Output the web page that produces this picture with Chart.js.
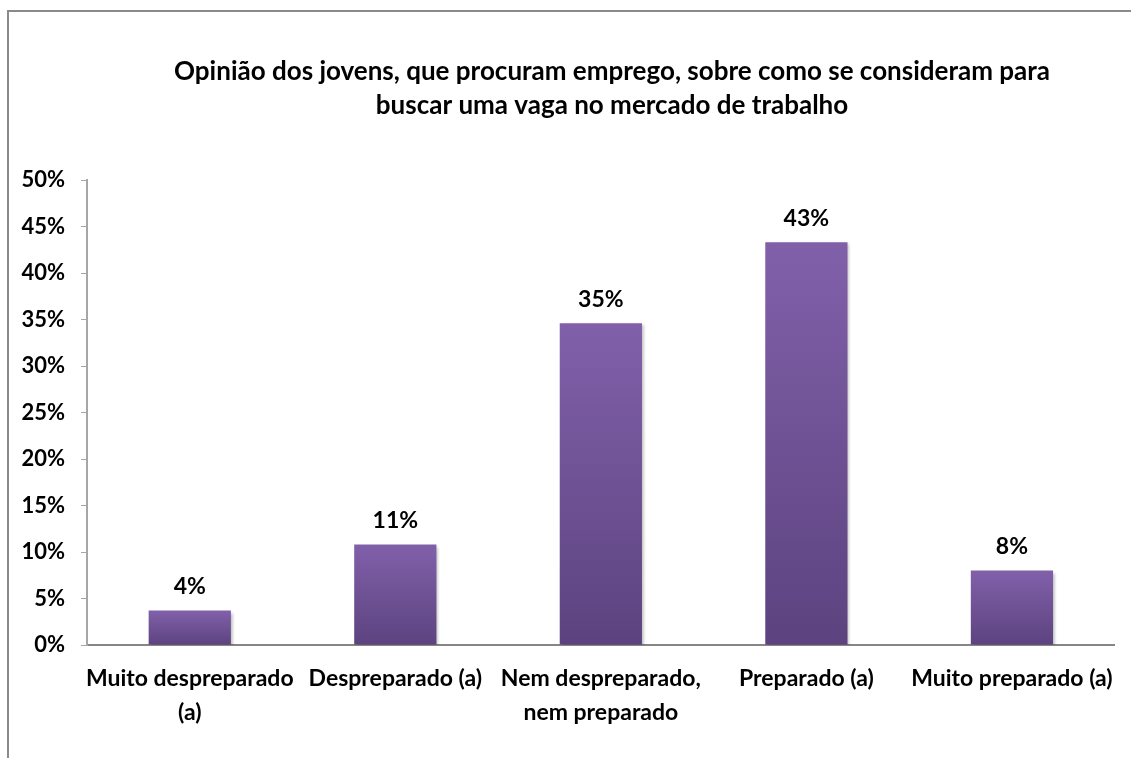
<!DOCTYPE html>
<html>
<head>
<meta charset="utf-8">
<title>Opinião dos jovens</title>
<script src="https://cdn.jsdelivr.net/npm/chart.js@4.4.1/dist/chart.umd.min.js"></script>
<style>
  html, body { margin: 0; padding: 0; background: #fff; overflow: hidden; }
  #wrap { position: relative; width: 1131px; height: 758px; }
  #frame {
    position: absolute; left: 7px; top: 10px; width: 1140px; height: 760px;
    border-left: 2px solid #8a8a8a; border-top: 2px solid #8a8a8a;
  }
  #opiniaoChart { position: absolute; left: 0; top: 0; }
</style>
</head>
<body>
<div id="wrap">
  <div id="frame"></div>
  <canvas id="opiniaoChart" width="1131" height="758"></canvas>
</div>
<script>
var titleLines = [
  "Opinião dos jovens, que procuram emprego, sobre como se consideram para",
  "buscar uma vaga no mercado de trabalho"
];
var categories = [
  ["Muito despreparado", "(a)"],
  "Despreparado (a)",
  ["Nem despreparado,", "nem preparado"],
  "Preparado (a)",
  "Muito preparado (a)"
];
var percentages = [3.7, 10.8, 34.6, 43.3, 8.0];
var yMax = 50;
var yStep = 5;

var FONT = "Lato";

// vertical purple gradient, per bar
function barGradient(context) {
  var chart = context.chart;
  if (!chart.chartArea || context.raw === undefined) return "#6e4f95";
  var y = chart.scales.y;
  var top = y.getPixelForValue(context.raw);
  var base = y.getPixelForValue(0);
  var g = chart.ctx.createLinearGradient(0, top, 0, base);
  g.addColorStop(0, "#8160aa");
  g.addColorStop(1, "#5c437f");
  return g;
}

var barShadow = {
  id: "barShadow",
  beforeDatasetDraw: function (chart) {
    var ctx = chart.ctx;
    ctx.save();
    ctx.shadowColor = "rgba(0,0,0,0.28)";
    ctx.shadowBlur = 3;
    ctx.shadowOffsetX = 2;
    ctx.shadowOffsetY = 2;
  },
  afterDatasetDraw: function (chart) {
    chart.ctx.restore();
  }
};

var valueLabels = {
  id: "valueLabels",
  afterDatasetsDraw: function (chart) {
    var ctx = chart.ctx;
    var meta = chart.getDatasetMeta(0);
    ctx.save();
    ctx.font = "bold 23px " + FONT;
    ctx.fillStyle = "#000";
    ctx.textAlign = "center";
    ctx.textBaseline = "middle";
    meta.data.forEach(function (bar, i) {
      ctx.fillText(Math.round(percentages[i]) + "%", bar.x, bar.y - 24);
    });
    ctx.restore();
  }
};

var chartTitle = {
  id: "chartTitle",
  afterDraw: function (chart) {
    var ctx = chart.ctx;
    ctx.save();
    ctx.font = "bold 26px " + FONT;
    ctx.fillStyle = "#000";
    ctx.textAlign = "center";
    ctx.textBaseline = "middle";
    titleLines.forEach(function (line, i) {
      ctx.fillText(line, 612, 72 + i * 34);
    });
    ctx.restore();
  }
};

var ctx = document.getElementById("opiniaoChart").getContext("2d");
var myChart = new Chart(ctx, {
  type: "bar",
  data: {
    labels: categories,
    datasets: [{
      data: percentages,
      backgroundColor: barGradient,
      borderWidth: 0,
      barPercentage: 0.4,
      categoryPercentage: 1
    }]
  },
  options: {
    responsive: false,
    animation: false,
    layout: { padding: { top: 180, right: 14, bottom: 0, left: 0 } },
    plugins: {
      legend: { display: false },
      title: { display: false },
      tooltip: { enabled: false }
    },
    scales: {
      x: {
        grid: { display: false, drawTicks: false },
        border: { display: true, color: "#868686", width: 2 },
        ticks: {
          padding: 17,
          maxRotation: 0,
          autoSkip: false,
          color: "#000",
          font: { family: FONT, size: 23, weight: "bold", lineHeight: 1.48 }
        },
        afterFit: function (scale) { scale.height = 113; }
      },
      y: {
        min: 0,
        max: yMax,
        grid: { drawOnChartArea: false, drawTicks: true, tickLength: 6, color: "#a6a6a6" },
        border: { display: true, color: "#a6a6a6", width: 2 },
        ticks: {
          stepSize: yStep,
          padding: 16,
          color: "#000",
          font: { family: FONT, size: 22, weight: "bold" },
          callback: function (v) { return v + "%"; }
        },
        afterFit: function (scale) { scale.width = 87; }
      }
    }
  },
  plugins: [barShadow, valueLabels, chartTitle]
});
</script>
</body>
</html>
